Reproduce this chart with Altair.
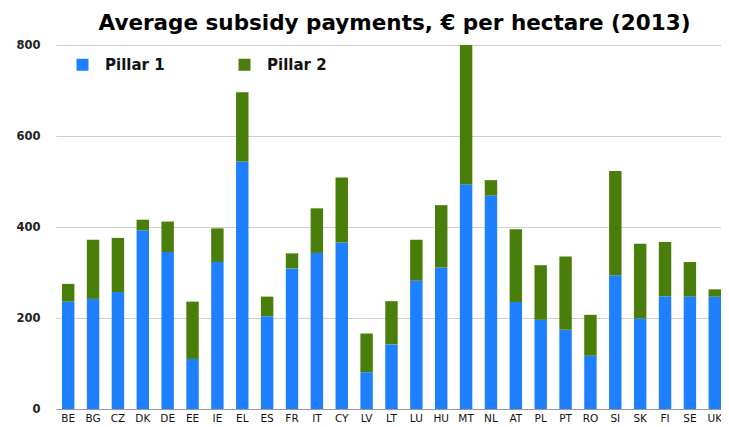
import altair as alt
import pandas as pd

countries = ["BE", "BG", "CZ", "DK", "DE", "EE", "IE", "EL", "ES", "FR", "IT", "CY", "LV",
             "LT", "LU", "HU", "MT", "NL", "AT", "PL", "PT", "RO", "SI", "SK", "FI", "SE", "UK"]
pillar1 = [236, 242, 257, 393, 345, 110, 323, 544, 204, 309, 343, 366, 81,
           142, 282, 311, 494, 469, 235, 196, 174, 117, 294, 199, 248, 247, 247]
totals = [275, 372, 376, 416, 412, 236, 397, 696, 247, 342, 441, 509, 166,
          237, 372, 448, 800, 503, 395, 316, 335, 207, 523, 363, 367, 323, 263]
pillar2 = [t - p for t, p in zip(totals, pillar1)]
series = ["Pillar 1", "Pillar 2"]
colors = ["#1F80FF", "#4A7E0B"]

rows = []
for c, p1, p2 in zip(countries, pillar1, pillar2):
    rows.append({"country": c, "pillar": series[0], "value": p1, "ord": 0})
    rows.append({"country": c, "pillar": series[1], "value": p2, "ord": 1})
df = pd.DataFrame(rows)

chart = alt.Chart(df).mark_bar(clip=True).encode(
    x=alt.X("country:N", sort=countries,
            scale=alt.Scale(paddingInner=0.5, paddingOuter=0.12, align=1),
            axis=alt.Axis(title=None, labelAngle=0, ticks=False, grid=False,
                          domainColor="#9a9a9a", labelFont="DejaVu Sans",
                          labelFontSize=10.5, labelColor="#111", labelPadding=4)),
    y=alt.Y("value:Q", stack="zero",
            scale=alt.Scale(domain=[0, 800], nice=False),
            axis=alt.Axis(title=None, values=[0, 200, 400, 600, 800], ticks=False,
                          domain=False, gridColor="#cfcfcf", labelFont="DejaVu Sans",
                          labelFontSize=11.5, labelFontWeight="bold", labelColor="#222",
                          labelPadding=16)),
    color=alt.Color("pillar:N", scale=alt.Scale(domain=series, range=colors),
                    legend=alt.Legend(title=None, orient="none", legendX=19, legendY=12,
                                      direction="horizontal", symbolType="square",
                                      symbolSize=144, symbolStrokeWidth=0,
                                      labelFont="DejaVu Sans", labelFontSize=15,
                                      labelFontWeight="bold", labelColor="#111",
                                      labelOffset=15, columnPadding=72, gridAlign="all")),
    order=alt.Order("ord:Q"),
).properties(
    width=665, height=364,
    title=alt.TitleParams("Average subsidy payments, € per hectare (2013)",
                          font="DejaVu Sans", fontSize=21.5, fontWeight="bold", color="#000",
                          anchor="middle", offset=5, dx=6),
    autosize=alt.AutoSizeParams(type="none"),
    padding={"left": 48, "top": 37, "right": 0, "bottom": 18},
).configure_view(stroke=None)

chart.save("out.html", embed_options={"renderer": "svg", "actions": False})
